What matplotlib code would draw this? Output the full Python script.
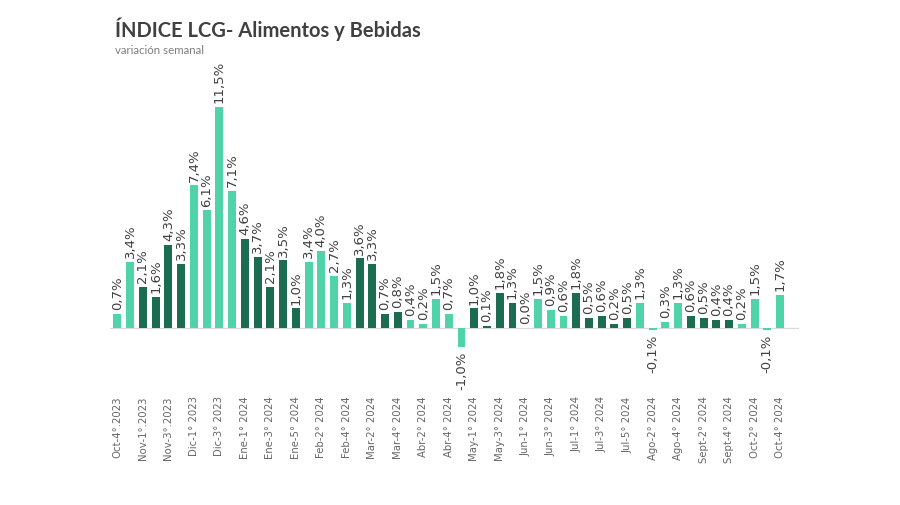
import numpy as np
from matplotlib import pyplot as plt

# weekly variation, % (semanas Oct-4 2023 .. Oct-4 2024)
semanas = ['Oct-4', 'Oct-5',
           'Nov-1', 'Nov-2', 'Nov-3', 'Nov-4',
           'Dic-1', 'Dic-2', 'Dic-3', 'Dic-4',
           'Ene-1', 'Ene-2', 'Ene-3', 'Ene-4', 'Ene-5',
           'Feb-1', 'Feb-2', 'Feb-3', 'Feb-4',
           'Mar-1', 'Mar-2', 'Mar-3', 'Mar-4',
           'Abr-1', 'Abr-2', 'Abr-3', 'Abr-4', 'Abr-5',
           'May-1', 'May-2', 'May-3', 'May-4',
           'Jun-1', 'Jun-2', 'Jun-3', 'Jun-4',
           'Jul-1', 'Jul-2', 'Jul-3', 'Jul-4', 'Jul-5',
           'Ago-1', 'Ago-2', 'Ago-3', 'Ago-4',
           'Sept-1', 'Sept-2', 'Sept-3', 'Sept-4',
           'Oct-1', 'Oct-2', 'Oct-3', 'Oct-4']
valores = [0.7, 3.4,
           2.1, 1.6, 4.3, 3.3,
           7.4, 6.1, 11.5, 7.1,
           4.6, 3.7, 2.1, 3.5, 1.0,
           3.4, 4.0, 2.7, 1.3,
           3.6, 3.3, 0.7, 0.8,
           0.4, 0.2, 1.5, 0.7, -1.0,
           1.0, 0.1, 1.8, 1.3,
           0.0, 1.5, 0.9, 0.6,
           1.8, 0.5, 0.6, 0.2, 0.5,
           1.3, -0.1, 0.3, 1.3,
           0.6, 0.5, 0.4, 0.4,
           0.2, 1.5, -0.1, 1.7]
# tick labels, one every two weeks
etiquetas = ['Oct-4°.2023', 'Nov-1°.2023', 'Nov-3°.2023', 'Dic-1° 2023', 'Dic-3° 2023',
             'Ene-1° 2024', 'Ene-3° 2024', 'Ene-5° 2024', 'Feb-2° 2024', 'Feb-4° 2024',
             'Mar-2° 2024', 'Mar-4° 2024', 'Abr-2° 2024', 'Abr-4° 2024', 'May-1° 2024',
             'May-3° 2024', 'Jun-1° 2024', 'Jun-3° 2024', 'Jul-1° 2024', 'Jul-3° 2024',
             'Jul-5° 2024', 'Ago-2° 2024', 'Ago-4° 2024', 'Sept-2° 2024', 'Sept-4° 2024',
             'Oct-2° 2024', 'Oct-4° 2024']
meses_oscuros = ['Nov', 'Ene', 'Mar', 'May', 'Jul', 'Sept']

light = '#50d3a8'
dark = '#1c6c51'
colors = [dark if s.split('-')[0] in meses_oscuros else light for s in semanas]

x = np.arange(len(valores))

f = plt.figure(figsize=(9, 5.05), dpi=100)
ax = f.add_axes([0.122, 0.218, 0.766, 0.590])

ax.bar(x, valores, width=0.62, color=colors, zorder=2)
ax.axhline(0, color='#d9d9d9', lw=0.9, zorder=1)

for xi, v in zip(x, valores):
    txt = f'{v:.1f}%'.replace('.', ',')
    if v < 0:
        ax.text(xi, v - 0.25, txt, rotation=90, ha='center', va='top',
                fontsize=9.5, color='#404040')
    else:
        ax.text(xi, v + 0.2, txt, rotation=90, ha='center', va='bottom',
                fontsize=9.5, color='#404040')

ax.set_xlim(-0.6, 53.5)
ax.set_ylim(-3.5, 12)
ax.set_xticks(x[::2])
ax.set_xticklabels(etiquetas, rotation=90, fontsize=7.3, color='#666666')
ax.tick_params(axis='x', length=0, pad=1)
ax.set_yticks([])
for s in ax.spines.values():
    s.set_visible(False)

f.text(0.128, 0.927, 'ÍNDICE LCG- Alimentos y Bebidas', fontsize=14.5, fontweight='bold',
       color='#404040', family='Lato', va='baseline')
f.text(0.128, 0.893, 'variación semanal', fontsize=8.3, color='#7f7f7f', family='Lato',
       va='baseline')

f.savefig('out.png')
